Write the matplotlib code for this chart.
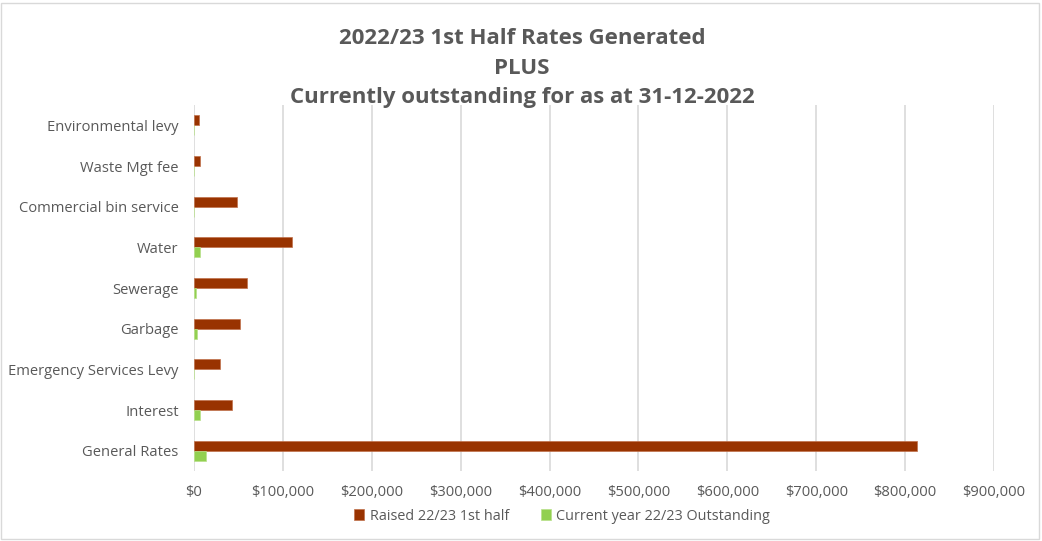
import matplotlib.pyplot as plt
import numpy as np
from matplotlib.ticker import FuncFormatter, MultipleLocator
from matplotlib.patches import Rectangle

plt.rcParams['font.family'] = ['Open Sans', 'DejaVu Sans']

categories = ["Environmental levy", "Waste Mgt fee", "Commercial bin service", "Water",
              "Sewerage", "Garbage", "Emergency Services Levy", "Interest", "General Rates"]
raised = [5250, 6750, 48800, 110300, 60000, 51800, 29300, 42400, 813000]
outstanding = [0, 0, 0, 6750, 1900, 3400, 0, 6750, 13700]

series_names = ["Raised 22/23 1st half", "Current year 22/23 Outstanding"]
title_lines = ["2022/23 1st Half Rates Generated", "PLUS", "Currently outstanding for as at 31-12-2022"]

red = "#993300"
green = "#92D050"
text_grey = "#595959"

fig = plt.figure(figsize=(10.42, 5.41), dpi=100)
ax = fig.add_axes([194 / 1042, 1 - 471 / 541, (994 - 194) / 1042, (471 - 105) / 541])

n = len(categories)
y = np.arange(n)[::-1]
h = 0.245
ax.barh(y + h / 2, raised, height=h, color=red, edgecolor="#c0704a", linewidth=0.5,
        label=series_names[0], zorder=3)
ax.barh(y - h / 2, outstanding, height=h, color=green, edgecolor="#b8e08a", linewidth=0.5,
        label=series_names[1], zorder=3)

ax.set_xlim(0, 900000)
ax.set_ylim(-0.5, n - 0.5)
ax.xaxis.set_major_locator(MultipleLocator(100000))
ax.xaxis.set_major_formatter(FuncFormatter(lambda v, p: f"${v:,.0f}"))
ax.set_yticks(y)
ax.set_yticklabels(categories)
ax.grid(axis="x", color="#d9d9d9", linewidth=1.2, zorder=0)
for s in ax.spines.values():
    s.set_visible(False)
ax.tick_params(axis="both", length=0, labelsize=10.6, colors=text_grey)
ax.tick_params(axis="y", pad=11)
ax.tick_params(axis="x", pad=10)

for i, line in enumerate(title_lines):
    fig.text(522 / 1042, 1 - (39 + 29 * i) / 541, line, ha="center", va="center",
             fontsize=16, fontweight="bold", color=text_grey)

ax.legend(loc="center", bbox_to_anchor=(562 / 1042, 1 - 516 / 541), bbox_transform=fig.transFigure,
          ncol=2, frameon=False, fontsize=10.4, labelcolor=text_grey, handlelength=0.7,
          handleheight=0.7, columnspacing=2.2, handletextpad=0.4)

fig.patches.append(Rectangle((1 / 1042, 2 / 541), 1038 / 1042, 536 / 541, transform=fig.transFigure,
                             fill=False, edgecolor="#d9d9d9", linewidth=1))

fig.savefig("out.png", dpi=100)
